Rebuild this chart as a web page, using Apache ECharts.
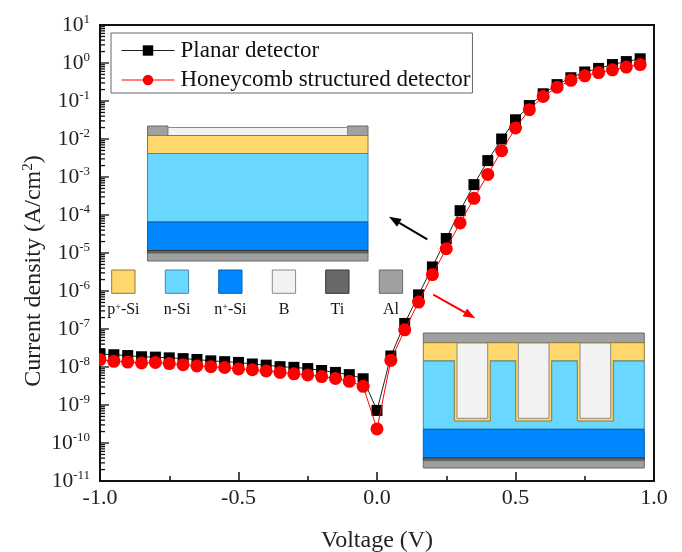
<!DOCTYPE html>
<html><head><meta charset="utf-8">
<script src="https://cdn.jsdelivr.net/npm/echarts@6/dist/echarts.min.js"></script>
<style>html,body{margin:0;padding:0;background:#fff}#c{width:682px;height:552px}</style>
</head><body><div id="c"></div>
<script>
const voltage = [-1.0,-0.95,-0.9,-0.85,-0.8,-0.75,-0.7,-0.65,-0.6,-0.55,-0.5,-0.45,-0.4,-0.35,-0.3,-0.25,-0.2,-0.15,-0.1,-0.05,0,0.05,0.1,0.15,0.2,0.25,0.3,0.35,0.4,0.45,0.5,0.55,0.6,0.65,0.7,0.75,0.8,0.85,0.9,0.95];
const planar = [2.2e-8,2.1e-8,2.0e-8,1.86e-8,1.82e-8,1.74e-8,1.66e-8,1.58e-8,1.45e-8,1.38e-8,1.32e-8,1.2e-8,1.12e-8,1.02e-8,9.8e-9,9.1e-9,8.1e-9,7.2e-9,6.3e-9,4.9e-9,7.2e-10,1.95e-8,1.4e-7,7.9e-7,4.3e-6,2.4e-5,1.3e-4,6.3e-4,2.7e-3,1.0e-2,3.2e-2,7.6e-2,0.155,0.27,0.41,0.58,0.72,0.91,1.09,1.29];
const honeycomb = [1.57e-8,1.41e-8,1.35e-8,1.28e-8,1.32e-8,1.23e-8,1.15e-8,1.07e-8,1.02e-8,9.7e-9,8.9e-9,8.5e-9,7.9e-9,7.2e-9,6.6e-9,6.2e-9,5.6e-9,5e-9,4.2e-9,3.1e-9,2.35e-10,1.5e-8,9.5e-8,5.1e-7,2.7e-6,1.3e-5,6.2e-5,2.75e-4,1.17e-3,4.9e-3,1.95e-2,5.9e-2,0.132,0.23,0.35,0.46,0.56,0.66,0.78,0.91];
const seriesNames = ['Planar detector','Honeycomb structured detector'];
const materialNames = ['p+-Si','n-Si','n+-Si','B','Ti','Al'];

const C = {p:'#ffd76b', n:'#69d7ff', np:'#0087ff', b:'#f2f2f2', ti:'#696969', al:'#a0a0a0'};
const FONT = '"Liberation Serif","Times New Roman",serif';
const edge = c => ({p:'#8a7a3c',n:'#3f8aa6',np:'#0a5ea8',b:'#8a8a8a',ti:'#333',al:'#6a6a6a'}[c]);

function rect(x1,y1,x2,y2,c,lw){
  return {type:'rect',silent:true,z:5,shape:{x:x1,y:y1,width:x2-x1,height:y2-y1},
    style:{fill:C[c],stroke:edge(c),lineWidth:lw||1}};
}
const g = [];
g.push(rect(147.5,126,168,135.5,'al'),rect(347.5,126,368,135.5,'al'),rect(168,127.5,347.5,135.5,'b'),
  rect(147.5,135.5,368,153.5,'p'),rect(147.5,153.5,368,222,'n'),rect(147.5,222,368,250.5,'np'),
  rect(147.5,250.5,368,253,'ti'),rect(147.5,253,368,261,'al'));
const keyX=[111.7,165.3,218.7,272.3,325.7,379.3], keyC=['p','n','np','b','ti','al'];
keyX.forEach((x,i)=>{
  g.push(rect(x,270,x+23.3,293.3,keyC[i]));
  const parts = materialNames[i].split('+');
  g.push({type:'text',silent:true,z:5,style:{
    x:x+11.7,y:310,align:'center',verticalAlign:'middle',
    text:parts.length>1?'{a|'+parts[0]+'}{s|+}{a|'+parts[1]+'}':materialNames[i],
    rich:{a:{font:'16px '+FONT,fill:'#111'},s:{font:'10px '+FONT,fill:'#111',padding:[0,0,6,0]}},
    font:'16px '+FONT,fill:'#111'}});
});
g.push(rect(423.3,333,644.3,342.7,'al'),rect(423.3,342.7,644.3,361,'p'),rect(423.3,361,644.3,429.3,'n'),
  rect(423.3,429.3,644.3,458,'np'),rect(423.3,458,644.3,460.7,'ti'),rect(423.3,460.7,644.3,468,'al'));
[[454.3,490.3,457,487.7],[515.7,551.7,518.3,549],[577.3,613.3,580,610.7]].forEach(t=>{
  g.push(rect(t[0],361,t[1],421,'p'));
  g.push({type:'rect',silent:true,z:5,shape:{x:t[0]+.5,y:355,width:t[1]-t[0]-1,height:8},style:{fill:C.p}});
  g.push(rect(t[2],343,t[3],418.3,'b'));
});
function arrow(x1,y1,x2,y2,color){
  const a=Math.atan2(y2-y1,x2-x1),L=12,W=4.5,bx=x2-L*Math.cos(a),by=y2-L*Math.sin(a),nx=-Math.sin(a),ny=Math.cos(a);
  g.push({type:'line',silent:true,z:5,shape:{x1,y1,x2:bx,y2:by},style:{stroke:color,lineWidth:2}});
  g.push({type:'polygon',silent:true,z:5,shape:{points:[[x2,y2],[bx+nx*W,by+ny*W],[bx-nx*W,by-ny*W]]},style:{fill:color}});
}
arrow(427.3,239.3,389,216.7,'#000');
arrow(433.3,294.7,475.3,318.3,'#f00');
g.push({type:'rect',silent:true,z:20,shape:{x:93,y:345,width:6,height:22},style:{fill:'#fff'}});

// y ticks of the log axis: [voltage at the axis, value, tick length]
const yTicks = [];
for (let e=-11;e<=1;e++) {
  yTicks.push([-1,Number('1e'+e),9]);
  if (e<1) for (let m=2;m<10;m++) yTicks.push([-1,Number(m+'e'+e),5]);
}

const chart = echarts.init(document.getElementById('c'));
const pairs = a => voltage.map((v,i)=>[v,a[i]]);
chart.setOption({
  animation:false,
  backgroundColor:'#fff',
  grid:{left:100,right:28,top:25,bottom:71,outerBoundsMode:'none',show:true,borderColor:'#111',borderWidth:2,backgroundColor:'transparent'},
  legend:{left:111,top:33,orient:'vertical',itemGap:6.5,itemWidth:53,itemHeight:13,
    padding:[6,2,1.5,10],borderColor:'#666',borderWidth:1,
    lineStyle:{width:1},
    data:seriesNames,
    textStyle:{fontFamily:FONT,fontSize:23,color:'#111',padding:[0,0,0,1]}},
  xAxis:{type:'value',min:-1,max:1,interval:0.5,
    axisLine:{lineStyle:{color:'#111',width:2},onZero:false},
    axisTick:{inside:true,length:9,lineStyle:{color:'#111',width:1.5}},
    minorTick:{show:true,splitNumber:2,length:5,lineStyle:{color:'#111',width:1.5}},
    splitLine:{show:false},
    axisLabel:{fontFamily:FONT,fontSize:22,color:'#222',margin:6,formatter:v=>v.toFixed(1)},
    name:'Voltage (V)',nameLocation:'middle',nameGap:47.5,
    nameTextStyle:{fontFamily:FONT,fontSize:24,color:'#222'}},
  yAxis:{type:'log',logBase:10,min:1e-11,max:10,interval:1,splitNumber:12,
    axisLine:{lineStyle:{color:'#111',width:2},onZero:false},
    axisTick:{show:false},
    minorTick:{show:false},
    splitLine:{show:false},minorSplitLine:{show:false},
    axisLabel:{margin:10,hideOverlap:false,interval:0,showMinLabel:true,showMaxLabel:true,formatter:v=>'{b|10}{s|'+Math.round(Math.log10(v))+'}',
      rich:{b:{fontFamily:FONT,fontSize:21.5,color:'#222'},s:{fontFamily:FONT,fontSize:13,color:'#222',padding:[0,0,10,0]}}},
    name:'{t|Current density (A/cm}{u|2}{t|)}',nameLocation:'middle',nameGap:54,nameMoveOverlap:false,
    nameTextStyle:{padding:[0,36,0,0],rich:{t:{fontFamily:FONT,fontSize:24,color:'#222'},u:{fontFamily:FONT,fontSize:15,color:'#222',padding:[0,0,10,0]}}}},
  series:[
    {name:seriesNames[0],type:'line',data:pairs(planar),symbol:'rect',symbolSize:11,z:3,
      lineStyle:{color:'#222',width:1},itemStyle:{color:'#000'}},
    {name:seriesNames[1],type:'line',data:pairs(honeycomb),symbol:'circle',symbolSize:13,z:4,
      lineStyle:{color:'#f00',width:1},itemStyle:{color:'#f00'}},
    {type:'custom',name:'y ticks',silent:true,z:2,data:yTicks,encode:{x:0,y:1},
      renderItem:(params,api)=>{
        const p=api.coord([api.value(0),api.value(1)]);
        return {type:'line',shape:{x1:p[0],y1:p[1],x2:p[0]+api.value(2),y2:p[1]},
          style:{stroke:'#111',lineWidth:1.3,fill:null}};
      }}
  ],
  graphic:g
});
</script></body></html>
